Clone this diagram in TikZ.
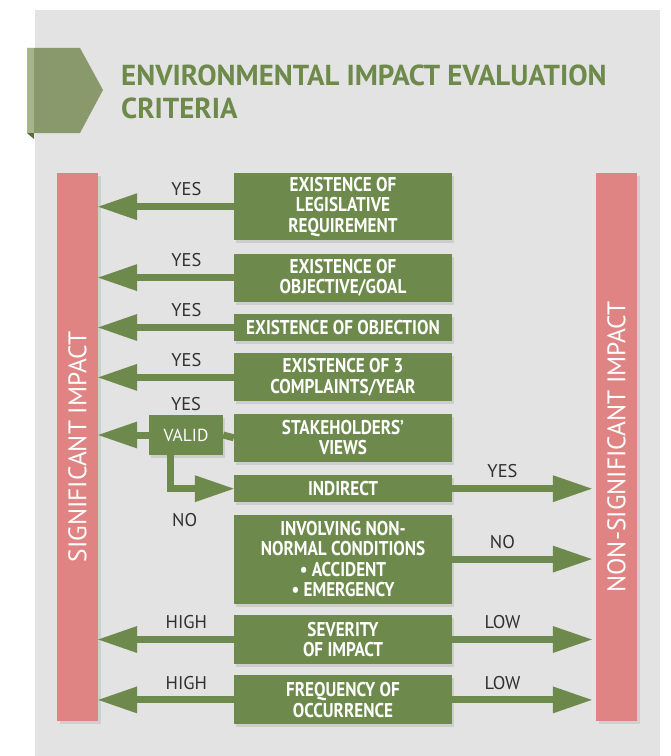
\documentclass[tikz,border=0pt]{standalone}
\usepackage{fontspec}
\setmainfont{PT Sans}[FakeStretch=0.86]
\newfontfamily\barfont{PT Sans}
\usetikzlibrary{arrows.meta}
\usetikzlibrary{positioning}
\usetikzlibrary{shadows}
\definecolor{critgreen}{RGB}{109,138,76}
\definecolor{barred}{RGB}{224,131,131}
\definecolor{panelgray}{RGB}{226,227,226}
\definecolor{bannergreen}{RGB}{138,153,108}
\definecolor{bannerlight}{RGB}{166,181,138}
\definecolor{bannerdark}{RGB}{88,106,60}
\definecolor{titlegreen}{RGB}{110,138,74}
\definecolor{lblgray}{RGB}{48,48,48}
\tikzset{
    crit/.style={
           rectangle,
           fill=critgreen,
           text=white,
           minimum width=218bp,
           inner sep=1pt,
           align=center,
           font=\bfseries\fontsize{20}{20.5}\selectfont,
           drop shadow={shadow xshift=2bp, shadow yshift=-3bp, opacity=.22},
           },
    validbox/.style={
           rectangle,
           fill=critgreen,
           text=white,
           minimum width=74bp,
           minimum height=40bp,
           inner sep=0pt,
           font=\barfont\fontsize{17.5}{17.5}\selectfont,
           drop shadow={shadow xshift=2bp, shadow yshift=-3bp, opacity=.22},
           },
    bar/.style={
           rectangle,
           fill=barred,
           text=white,
           minimum width=41bp,
           minimum height=548bp,
           inner sep=0pt,
           font=\barfont\fontsize{25.5}{25.5}\selectfont,
           drop shadow={shadow xshift=3bp, shadow yshift=-3bp, opacity=.2},
           },
    lbl/.style={
           text=lblgray,
           inner sep=0pt,
           font=\barfont\fontsize{18.5}{18.5}\selectfont,
           },
    title/.style={
           text=titlegreen,
           inner sep=0pt,
           align=left,
           font=\barfont\bfseries\fontsize{29}{33}\selectfont,
           },
    shaft/.style={draw=critgreen, line width=7bp},
    arr/.style={shaft, -{Triangle[length=39bp,width=27bp,line width=0pt]}},
}
\begin{document}
\begin{tikzpicture}[x=1bp,y=-1bp]
      \useasboundingbox (0,0) rectangle (671,756);
      \fill[panelgray] (35,10) rectangle (660,756);
      \fill[bannergreen] (27,48) -- (80,48) -- (103,90) -- (80,133) -- (27,133) -- cycle;
      \fill[bannerlight] (27,48) rectangle (34,133);
      \fill[bannerdark] (27,133) -- (34,133) -- (34,139) -- cycle;
      \node[title, anchor=north west] (title) at (121,65) {ENVIRONMENTAL IMPACT EVALUATION\\CRITERIA};

      \node[bar] (sig)    at (77.5,447)  {\rotatebox{90}{SIGNIFICANT IMPACT}};
      \node[bar] (nonsig) at (616.5,447) {\rotatebox{90}{NON-SIGNIFICANT IMPACT}};

      \node[crit, minimum height=67bp, anchor=north] (crit1) at (343,173) {EXISTENCE OF\\LEGISLATIVE\\REQUIREMENT};
      \node[crit, minimum height=48bp] (crit2) [below=13bp of crit1] {EXISTENCE OF\\OBJECTIVE/GOAL};
      \node[crit, minimum height=27bp] (crit3) [below=12bp of crit2] {EXISTENCE OF OBJECTION};
      \node[crit, minimum height=48bp] (crit4) [below=12bp of crit3] {EXISTENCE OF 3\\COMPLAINTS/YEAR};
      \node[crit, minimum height=48bp] (crit5) [below=12bp of crit4] {STAKEHOLDERS’\\VIEWS};
      \node[crit, minimum height=27bp] (crit6) [below=13bp of crit5] {INDIRECT};
      \node[crit, minimum height=89bp] (crit7) [below=12bp of crit6] {INVOLVING NON-\\NORMAL CONDITIONS\\• ACCIDENT\\• EMERGENCY};
      \node[crit, minimum height=49bp] (crit8) [below=11bp of crit7] {SEVERITY\\OF IMPACT};
      \node[crit, minimum height=49bp] (crit9) [below=11bp of crit8] {FREQUENCY OF\\OCCURRENCE};
      \node[validbox] (valid) at (186,435) {VALID};
      \node[lbl] (yes5) [above=4bp of valid] {YES};

      \draw[arr] (crit1.west) -- (crit1.west -| sig.east) node[lbl, pos=.35, above=7bp] (yes1) {YES};
      \draw[arr] (crit2.west) -- (crit2.west -| sig.east) node[lbl, pos=.35, above=7bp] (yes2) {YES};
      \draw[arr] (crit3.west) -- (crit3.west -| sig.east) node[lbl, pos=.35, above=7bp] (yes3) {YES};
      \draw[arr] (crit4.west) -- (crit4.west -| sig.east) node[lbl, pos=.35, above=7bp] (yes4) {YES};
      \draw[shaft] (crit5.west) -- (valid.east);
      \draw[arr] (valid.west) -- (valid.west -| sig.east);
      \draw[arr] ([xshift=22bp]valid.south west) |- (crit6.west) node[lbl, pos=.61, below=21bp] (no6) {NO};
      \draw[arr] (crit8.west) -- (crit8.west -| sig.east) node[lbl, pos=.35, above=7bp] (high8) {HIGH};
      \draw[arr] (crit9.west) -- (crit9.west -| sig.east) node[lbl, pos=.35, above=7bp] (high9) {HIGH};

      \draw[arr, shorten >=4bp] (crit6.east) -- (crit6.east -| nonsig.west) node[lbl, pos=.35, above=7bp] (yes6) {YES};
      \draw[arr, shorten >=4bp] (crit7.east) -- (crit7.east -| nonsig.west) node[lbl, pos=.35, above=7bp] (no7) {NO};
      \draw[arr, shorten >=4bp] (crit8.east) -- (crit8.east -| nonsig.west) node[lbl, pos=.35, above=7bp] (low8) {LOW};
      \draw[arr, shorten >=4bp] (crit9.east) -- (crit9.east -| nonsig.west) node[lbl, pos=.35, above=7bp] (low9) {LOW};
\end{tikzpicture}
\end{document}
